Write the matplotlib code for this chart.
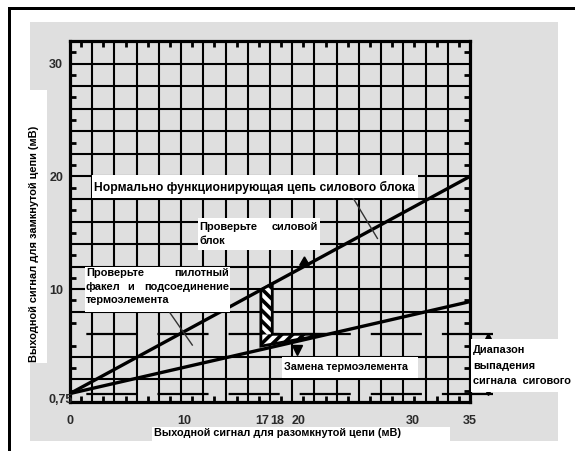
import numpy as np
import matplotlib
matplotlib.use("Agg")
import matplotlib.pyplot as plt
from matplotlib.patches import Rectangle, Polygon
import matplotlib.transforms as mtransforms

plt.rcParams['font.family'] = ['Liberation Sans', 'DejaVu Sans']

# ---- data ----
x_open = [0, 35]                 # open-circuit signal, mV
y_normal = [0.75, 20]            # normal power-unit line
y_lower = [0.75, 8.9]            # lower (dropout) line
x_ticks = [0, 10, 17, 18, 20, 30, 35]
x_ticklabels = ['0', '10', '17', '18', '20', '30', '35']
y_ticks = [10, 20, 30]
y_ticklabels = ['10', '20', '30']
y_first_label = '0,75'
range_low, range_high = 0.75, 6
hatch_x = [16.7, 17.7]
hatch_bottom_y = 4.95
hatch_end_x = 22.4

W, H = 575, 451
fig = plt.figure(figsize=(W / 100, H / 100), dpi=100)
fig.patch.set_facecolor('white')

def fx(x):
    return x / W

def fy(y):
    return 1 - y / H

def frect(x0, y0, x1, y1, **kw):
    r = Rectangle((fx(x0), fy(y1)), fx(x1) - fx(x0), fy(y0) - fy(y1),
                  transform=fig.transFigure, **kw)
    fig.add_artist(r)
    return r

GRAY = '#dfdfdf'
# background paper
frect(30, 22, 558, 441, facecolor=GRAY, edgecolor='none', zorder=-5)
# frame lines
frect(8, 7, 11, 451, facecolor='black', edgecolor='none', zorder=10)
frect(8, 7, 575, 10, facecolor='black', edgecolor='none', zorder=10)
# white label cutouts
frect(27, 90, 47, 363, facecolor='white', edgecolor='none', zorder=-4)
frect(152, 427, 450, 441, facecolor='white', edgecolor='none', zorder=-4)

ax = fig.add_axes([fx(70), fy(402), 400 / W, 361 / H])
ax.set_facecolor(GRAY)
ax.set_xlim(0, 35)
ax.set_ylim(0, 32)

# grid
for gx in np.linspace(0, 35, 19)[1:-1]:
    ax.axvline(gx, color='black', lw=1.5, zorder=1)
for gy in range(2, 32, 2):
    if gy == range_high:
        continue
    ax.axhline(gy, color='black', lw=1.5, zorder=1)

# dashed range lines
for yy in (range_high, range_low):
    ax.plot([37.0, 0], [yy, yy], color='black', lw=1.6,
            dashes=(23, 9), clip_on=False, zorder=2)

for s in ax.spines.values():
    s.set_linewidth(2.3)
    s.set_color('black')
    s.set_zorder(3)

ax.set_xticks(x_ticks)
ax.set_xticklabels(x_ticklabels)
ax.set_yticks(y_ticks)
ax.set_yticklabels(y_ticklabels)
ax.tick_params(axis='both', which='major', length=0, labelsize=9,
               labelcolor='#2a2a2a')
ax.tick_params(axis='x', which='major', pad=9)
ax.tick_params(axis='y', which='major', pad=5)
for lab in ax.get_xticklabels() + ax.get_yticklabels():
    lab.set_fontweight('bold')
# nudge the crowded 17 / 18 labels apart
xlabs = ax.get_xticklabels()
for lab, dx in ((xlabs[2], -2.5), (xlabs[3], 1.5)):
    lab.set_transform(lab.get_transform() +
                      mtransforms.ScaledTranslation(dx / 100, 0, fig.dpi_scale_trans))
xg = np.linspace(0, 35, 19)
ax.set_xticks((xg[:-1] + xg[1:]) / 2, minor=True)
ax.set_yticks(np.arange(1, 32, 2), minor=True)
ax.tick_params(which='minor', direction='in', length=4, width=2,
               top=True, right=True, bottom=True, left=True)
ax.text(0.25, 0.2, y_first_label, ha='right', va='center', fontsize=9,
        fontweight='bold', color='#2a2a2a', zorder=6, clip_on=False)

# main lines
ax.plot(x_open, y_normal, color='black', lw=2.4, zorder=4, solid_capstyle='butt')
ax.plot(x_open, y_lower, color='black', lw=2.4, zorder=4, solid_capstyle='butt')

def yu(x):
    return np.interp(x, x_open, y_normal)

def yl(x):
    return np.interp(x, x_open, y_lower)

# hatched L-shaped arrow: vertical part striped "\", horizontal part "/"
vert = [(hatch_x[0], yu(hatch_x[0])), (hatch_x[1], yu(hatch_x[1])),
        (hatch_x[1], range_high), (hatch_x[0], range_high)]
horiz = [(hatch_x[0], range_high), (hatch_end_x, range_high),
         (hatch_x[0], hatch_bottom_y)]
outline = vert[:3] + [(hatch_end_x, range_high), (hatch_x[0], hatch_bottom_y)]
pv = Polygon(vert, closed=True, facecolor='white', edgecolor='none', zorder=5)
ph = Polygon(horiz, closed=True, facecolor='white', edgecolor='none', zorder=5)
ax.add_patch(pv)
ax.add_patch(ph)
period = 0.95
for c in np.arange(hatch_x[0] - 15, hatch_x[0] + 15, period):
    xs = np.array([hatch_x[0] - 1, hatch_end_x + 1])
    # "\" stripes in the vertical part
    ln, = ax.plot(xs, -(xs - c) + 8, color='black', lw=2.6, zorder=5.1,
                  solid_capstyle='butt')
    ln.set_clip_path(pv)
    # "/" stripes in the horizontal part
    ln2, = ax.plot(xs, (xs - c) - 8, color='black', lw=2.6, zorder=5.1,
                   solid_capstyle='butt')
    ln2.set_clip_path(ph)
ax.add_patch(Polygon(outline, closed=True, facecolor='none', edgecolor='black',
                     lw=2.0, zorder=5.2))

# arrow heads
ax.plot([20.5], [yu(20.5) + 0.35], marker=(3, 0, -120), ms=8, color='black', zorder=6)
ax.plot([19.9], [yl(19.9) - 0.8], marker='v', ms=7, color='black', zorder=6)
ax.plot([36.6], [range_high - 0.35], marker='^', ms=7, color='black', clip_on=False, zorder=6)
ax.plot([36.6], [range_low + 0.35], marker='v', ms=7, color='black', clip_on=False, zorder=6)

# leader lines
ax.plot([24.7, 26.9], [18.2, 14.5], color='#333333', lw=1.0, zorder=4)
ax.plot([8.75, 10.7], [7.9, 5.05], color='#333333', lw=1.0, zorder=4)

# ---- annotation text ----
renderer = fig.canvas.get_renderer()

def ftext(x, y, s, width=None, ha='left', size=8.5, rotation=0, zorder=12):
    t = fig.text(fx(x), fy(y), s, ha=ha, va='center', fontsize=size,
                 fontweight='bold', color='black', rotation=rotation,
                 zorder=zorder)
    if width is not None:
        bb = t.get_window_extent(renderer)
        w = bb.height if rotation else bb.width
        t.set_fontsize(size * width / w)
    return t

frect(92, 175, 418, 198, facecolor='white', edgecolor='none', zorder=11)
ftext(94, 187, 'Нормально функционирующая цепь силового блока', width=320)

frect(85, 267, 230, 312, facecolor='white', edgecolor='none', zorder=11)
tp = ftext(229, 287, 'подсоединение', ha='right', width=86)
S2 = tp.get_fontsize()
ftext(86, 273, 'Проверьте', size=S2)
ftext(229, 273, 'пилотный', ha='right', size=S2)
ftext(86, 287, 'факел', size=S2)
ftext(131, 287, 'и', ha='center', size=S2)
ftext(86, 300, 'термоэлемента', size=S2)

frect(198, 218, 320, 250, facecolor='white', edgecolor='none', zorder=11)
ftext(199, 227, 'Проверьте', size=S2)
ftext(318, 227, 'силовой', ha='right', size=S2)
ftext(199, 241, 'блок', size=S2)

frect(282, 357, 418, 378, facecolor='white', edgecolor='none', zorder=11)
ftext(284, 367, 'Замена термоэлемента', width=125)

frect(471, 339, 575, 392, facecolor='white', edgecolor='none', zorder=11)
ftext(473, 350, 'Диапазон', size=S2)
ftext(473, 366, 'выпадения', size=S2)
ftext(473, 381, 'сигнала  сигового', width=99)

ftext(278, 433, 'Выходной сигнал для разомкнутой цепи (мВ)', width=249, ha='center')
ftext(34, 244, 'Выходной сигнал для замкнутой цепи (мВ)', width=238, ha='center',
      rotation=90)

fig.savefig('out.png', dpi=100)
